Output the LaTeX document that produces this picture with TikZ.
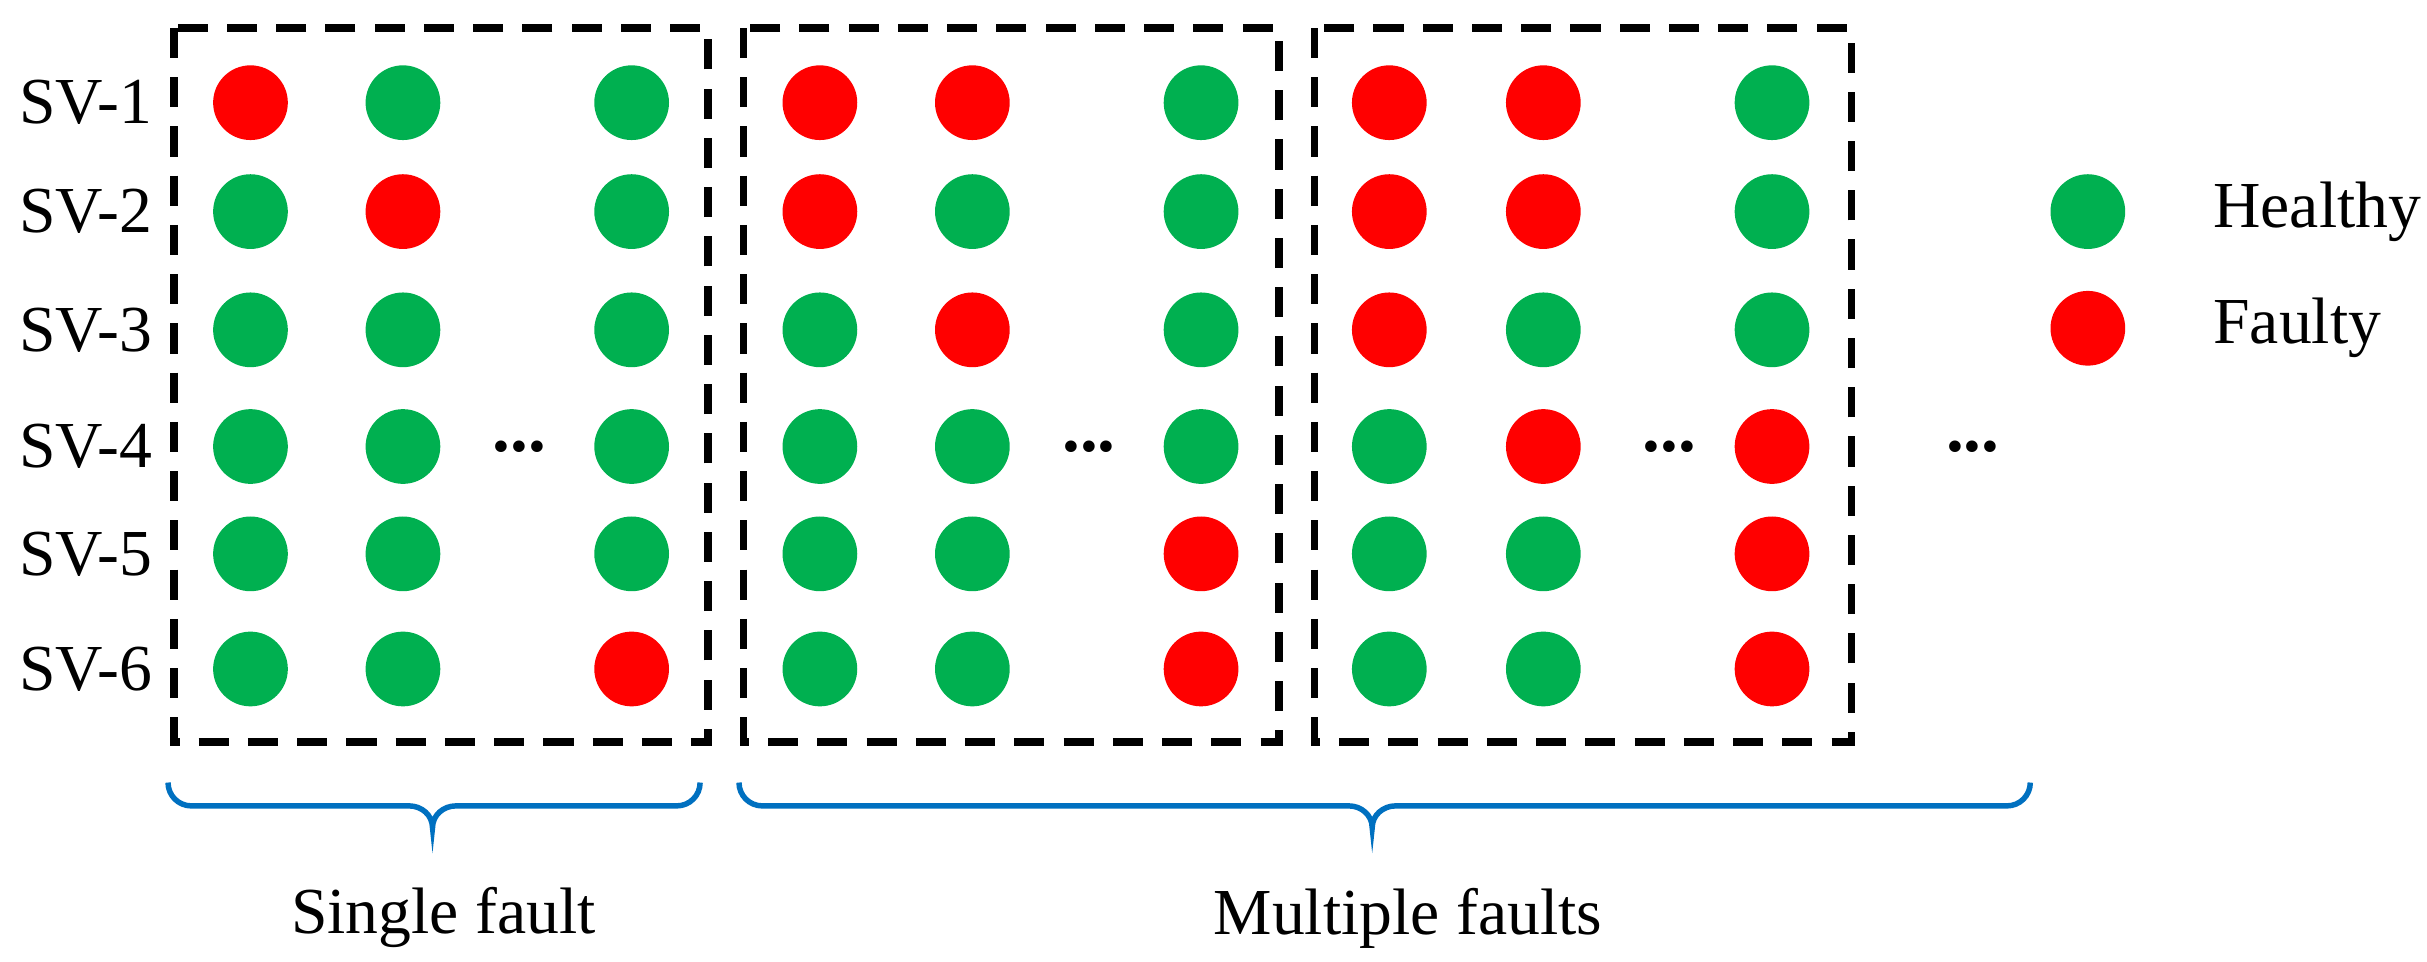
\documentclass[tikz,border=0pt]{standalone}
\usepackage{fontspec}
\setmainfont{Liberation Serif}
\begin{document}
\definecolor{hg}{HTML}{00B050}
\definecolor{fr}{HTML}{FF0000}
\definecolor{bb}{HTML}{0070C0}
\begin{tikzpicture}[x=0.01cm,y=-0.01cm,
  dot/.style={circle,minimum size=0.48cm,inner sep=0pt},
  G/.style={dot,fill=hg},R/.style={dot,fill=fr},
  box/.style={draw,line width=1.4pt,dash pattern=on 5.5pt off 3.5pt},
  brace/.style={draw=bb,line width=1pt},
  lab/.style={font=\fontsize{12}{14}\selectfont},
  dd/.style={font=\fontsize{13}{14}\selectfont\bfseries}]
\useasboundingbox (0,0) rectangle (1560,618);
\draw[box] (112,18) rectangle (455,477);
\draw[box] (478,18) rectangle (822,477);
\draw[box] (845,18) rectangle (1190,477);
\foreach \i/\y in {1/66,2/136,3/212,4/287,5/356,6/430}
  \node[lab] (sv\i) at (55,\y) {SV-\i};
\foreach \b/\xa/\xb/\xc/\pa/\pb/\pc in {
  1/161/259/406/{R,G,G,G,G,G}/{G,R,G,G,G,G}/{G,G,G,G,G,R},
  2/527/625/772/{R,R,G,G,G,G}/{R,G,R,G,G,G}/{G,G,G,G,R,R},
  3/893/992/1139/{R,R,R,G,G,G}/{R,R,G,R,G,G}/{G,G,G,R,R,R}}{
  \foreach \s [count=\i] in \pa {\pgfmathsetmacro\yy{{66,136,212,287,356,430}[\i-1]}\node[\s] (c\b a\i) at (\xa,\yy) {};}
  \foreach \s [count=\i] in \pb {\pgfmathsetmacro\yy{{66,136,212,287,356,430}[\i-1]}\node[\s] (c\b b\i) at (\xb,\yy) {};}
  \foreach \s [count=\i] in \pc {\pgfmathsetmacro\yy{{66,136,212,287,356,430}[\i-1]}\node[\s] (c\b c\i) at (\xc,\yy) {};}
}
\node[dd] (d1) at (334,287) {...};
\node[dd] (d2) at (700,287) {...};
\node[dd] (d3) at (1073,287) {...};
\node[dd] (d4) at (1268,287) {...};
\node[G] (lh) at (1342,136) {};
\node[R] (lf) at (1342,211) {};
\node[lab,anchor=west,inner sep=0pt] (th) at (1422,136) {Healthy};
\node[lab,anchor=west,inner sep=0pt] (tf) at (1422,211) {Faulty};
\draw[brace] (108,503) to[out=-90,in=180] (123,518) -- (263,518) to[out=0,in=90] (278,532) to[out=90,in=180] (293,518) -- (435,518) to[out=0,in=-90] (450,503);
\draw[brace] (475,503) to[out=-90,in=180] (490,518) -- (867,518) to[out=0,in=90] (882,532) to[out=90,in=180] (897,518) -- (1290,518) to[out=0,in=-90] (1305,503);
\node[lab] (sf) at (285,590) {Single fault};
\node[lab] (mf) at (905,590) {Multiple faults};
\end{tikzpicture}
\end{document}
